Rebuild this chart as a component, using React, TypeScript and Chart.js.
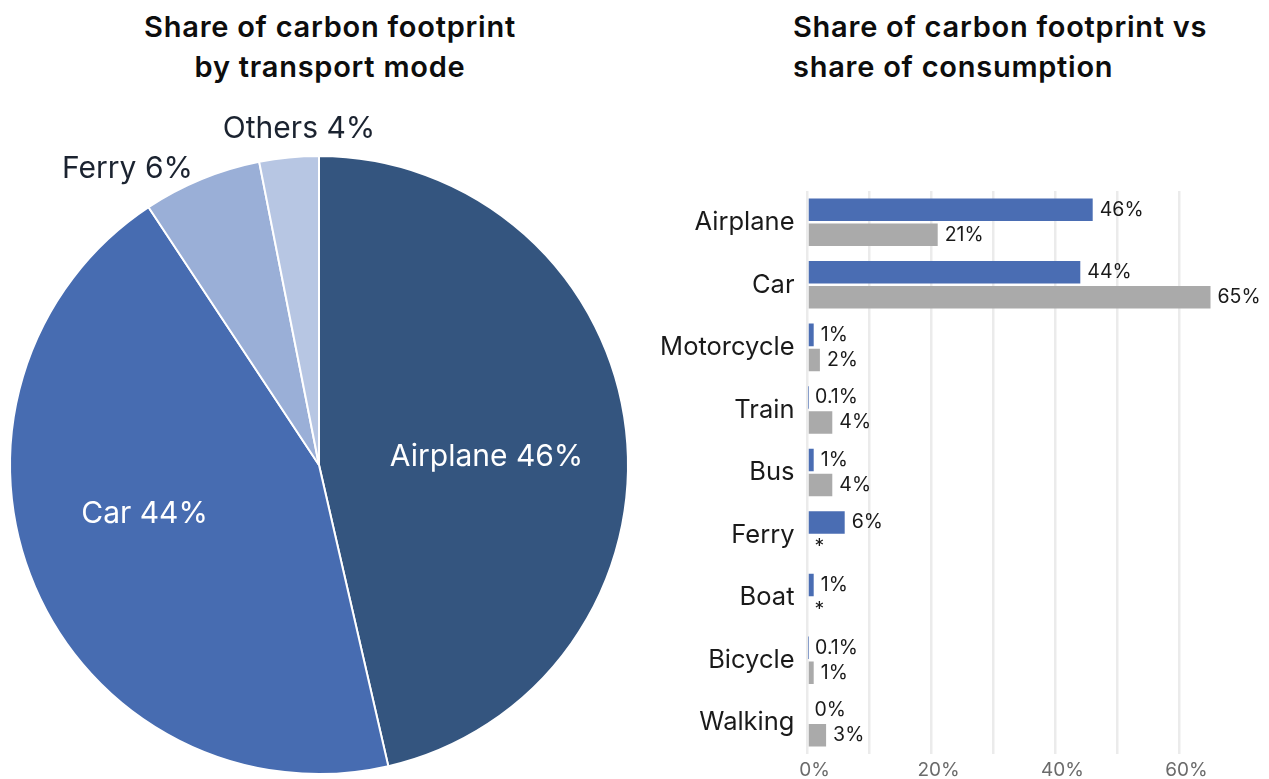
import React, { useEffect, useRef } from "react";
import { Chart, registerables } from "chart.js";

Chart.register(...registerables);

// ---------- Data: pie ----------
const pieCategories = ["Airplane", "Car", "Ferry", "Others"];
const pieValues = [46.4, 44.3, 6.2, 3.1];
const pieLabelText = ["Airplane 46%", "Car 44%", "Ferry 6%", "Others 4%"];

// ---------- Data: bars ----------
const modes = ["Airplane", "Car", "Motorcycle", "Train", "Bus", "Ferry", "Boat", "Bicycle", "Walking"];
const footprintShare = [46, 44, 1, 0.1, 1, 6, 1, 0.1, 0];
const consumptionShare: (number | null)[] = [21, 65, 2, 4, 4, null, null, 1, 3];
const footprintLabels = ["46%", "44%", "1%", "0.1%", "1%", "6%", "1%", "0.1%", "0%"];
const consumptionLabels = ["21%", "65%", "2%", "4%", "4%", "*", "*", "1%", "3%"];
const xTickLabelValues = [0, 20, 40, 60];

// ---------- Styles ----------
const FONT = "Inter, 'Noto Sans', sans-serif";
const pieColors = ["#34557f", "#476cb1", "#9aafd7", "#b7c6e3"];
const pieLabelColors = ["#ffffff", "#ffffff", "#1b2330", "#1b2330"];
const pieLabelAngleDeg = [87.3, 254.4, 327.1, 356.6];
const pieLabelRadiusFrac = [0.543, 0.586, 1.141, 1.089];
const footprintColor = "#4a6db3";
const consumptionColor = "#aaaaaa";

const pieLabelPlugin = {
  id: "pieLabels",
  afterDatasetsDraw(chart: any) {
    const meta = chart.getDatasetMeta(0);
    const arc = meta.data[0];
    if (!arc) return;
    const { x: cx, y: cy, outerRadius } = arc.getProps(["x", "y", "outerRadius"], true);
    const ctx = chart.ctx;
    ctx.save();
    ctx.font = `400 30px ${FONT}`;
    ctx.textAlign = "center";
    ctx.textBaseline = "middle";
    pieLabelText.forEach((t, i) => {
      const a = (pieLabelAngleDeg[i] * Math.PI) / 180;
      const r = pieLabelRadiusFrac[i] * outerRadius;
      ctx.fillStyle = pieLabelColors[i];
      ctx.fillText(t, cx + r * Math.sin(a), cy - r * Math.cos(a));
    });
    ctx.restore();
  },
};

const barLabelPlugin = {
  id: "barLabels",
  afterDatasetsDraw(chart: any) {
    const ctx = chart.ctx;
    const xScale = chart.scales.x;
    const allLabels = [footprintLabels, consumptionLabels];
    ctx.save();
    ctx.font = `400 19.5px ${FONT}`;
    ctx.fillStyle = "#1a1a1a";
    ctx.textAlign = "left";
    ctx.textBaseline = "middle";
    chart.data.datasets.forEach((ds: any, i: number) => {
      const meta = chart.getDatasetMeta(i);
      meta.data.forEach((el: any, j: number) => {
        const v = ds.data[j];
        const x = v == null || !isFinite(el.x) ? xScale.getPixelForValue(0) : el.x;
        const y = el.y;
        if (!isFinite(y)) return;
        ctx.fillText(allLabels[i][j], x + 7, y);
      });
    });
    ctx.restore();
  },
};

export default function App() {
  const pieRef = useRef<HTMLCanvasElement>(null);
  const barRef = useRef<HTMLCanvasElement>(null);

  useEffect(() => {
    const pie = new Chart(pieRef.current as HTMLCanvasElement, {
      type: "pie",
      data: {
        labels: pieCategories,
        datasets: [
          {
            data: pieValues,
            backgroundColor: pieColors,
            borderColor: "#ffffff",
            borderWidth: 2,
          },
        ],
      },
      options: {
        responsive: false,
        animation: false,
        layout: { padding: { top: 155, bottom: 4, left: 9, right: 11 } },
        plugins: { legend: { display: false }, tooltip: { enabled: false } },
      },
      plugins: [pieLabelPlugin],
    } as any);

    const bar = new Chart(barRef.current as HTMLCanvasElement, {
      type: "bar",
      data: {
        labels: modes,
        datasets: [
          {
            label: "Share of carbon footprint",
            data: footprintShare,
            backgroundColor: footprintColor,
            categoryPercentage: 0.8,
            barPercentage: 0.9,
          },
          {
            label: "Share of consumption",
            data: consumptionShare,
            backgroundColor: consumptionColor,
            categoryPercentage: 0.8,
            barPercentage: 0.9,
          },
        ],
      },
      options: {
        indexAxis: "y",
        responsive: false,
        animation: false,
        layout: { padding: { top: 41, right: 27.5, left: 0, bottom: 0 } },
        plugins: { legend: { display: false }, tooltip: { enabled: false } },
        scales: {
          x: {
            min: 0,
            max: 70,
            afterFit: (s: any) => {
              s.height = 25;
              s.paddingLeft = 0;
              s.paddingRight = 0;
            },
            ticks: {
              stepSize: 10,
              autoSkip: false,
              maxRotation: 0,
              padding: 5,
              labelOffset: 7,
              color: "#6b6b6b",
              font: { family: FONT, size: 19 },
              callback: (v: any) => (xTickLabelValues.includes(Number(v)) ? `${v}%` : ""),
            },
            grid: {
              drawTicks: false,
              lineWidth: 2.5,
              color: (c: any) => (c.tick && c.tick.value === 70 ? "rgba(0,0,0,0)" : "#ebebeb"),
            },
            border: { display: false },
          },
          y: {
            afterFit: (s: any) => {
              s.width = 167.5;
              s.paddingTop = 0;
              s.paddingBottom = 0;
            },
            ticks: {
              padding: 13,
              color: "#1a1a1a",
              font: { family: FONT, size: 25.5 },
            },
            grid: { display: false, drawTicks: false },
            border: { display: false },
          },
        },
      },
      plugins: [barLabelPlugin],
    } as any);

    return () => {
      pie.destroy();
      bar.destroy();
    };
  }, []);

  const titleStyle: React.CSSProperties = {
    position: "absolute",
    top: 7,
    fontFamily: FONT,
    fontWeight: 600,
    fontSize: 29,
    letterSpacing: "0.75px",
    lineHeight: "40px",
    color: "#0d0d0d",
    whiteSpace: "nowrap",
  };

  return (
    <div
      style={{
        position: "fixed",
        left: 0,
        top: 0,
        width: 1269,
        height: 779,
        background: "#ffffff",
        overflow: "hidden",
      }}
    >
      <div style={{ ...titleStyle, left: 0, width: 660, textAlign: "center" }}>
        Share of carbon footprint
        <br />
        by transport mode
      </div>
      <div style={{ ...titleStyle, left: 793, textAlign: "left" }}>
        Share of carbon footprint vs
        <br />
        share of consumption
      </div>
      <canvas
        ref={pieRef}
        width={640}
        height={779}
        style={{ position: "absolute", left: 0, top: 0, width: 640, height: 779 }}
      />
      <canvas
        ref={barRef}
        width={629}
        height={629}
        style={{ position: "absolute", left: 640, top: 150, width: 629, height: 629 }}
      />
    </div>
  );
}
